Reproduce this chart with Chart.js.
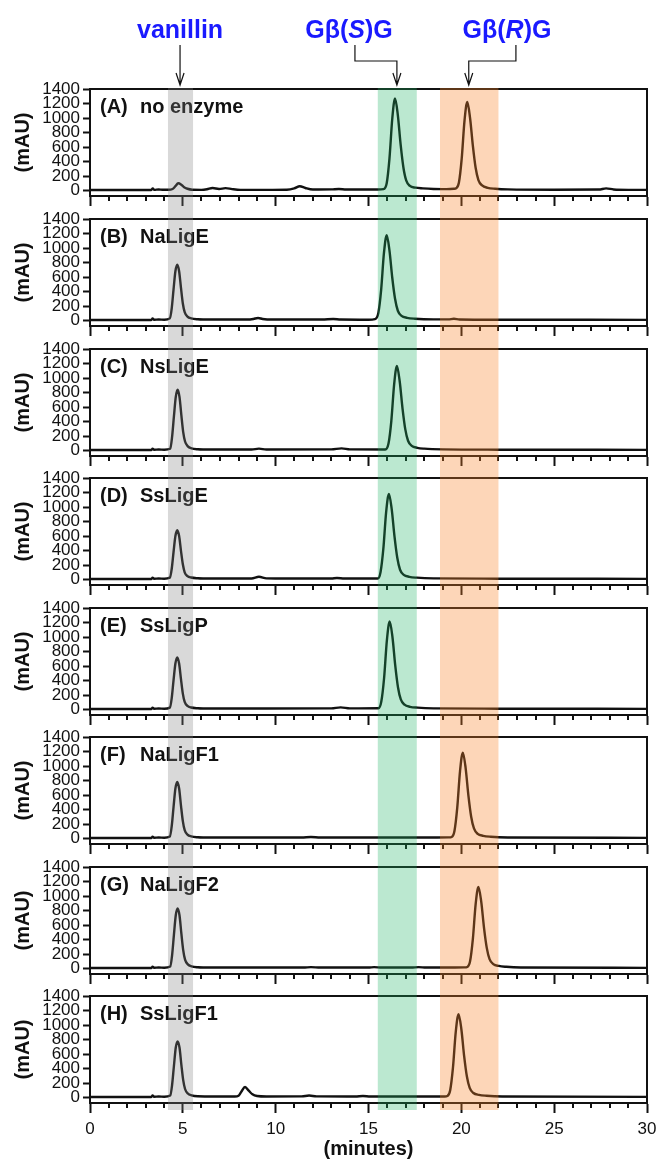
<!DOCTYPE html>
<html>
<head>
<meta charset="utf-8">
<script src="https://cdn.jsdelivr.net/npm/chart.js@4.4.1/dist/chart.umd.min.js"></script>
<style>
  html, body { margin: 0; padding: 0; background: #fff; }
  #wrap { position: relative; width: 657px; height: 1160px; overflow: hidden; }
  #wrap canvas { position: absolute; left: 0; }
</style>
</head>
<body>
<div id="wrap"></div>
<script>
// [retention time (min), absorbance (mAU)]
var traceA = [[0,8],[3.3,8],[3.38,30],[3.46,10],[3.7,15],[3.9,12],[4.2,12],[4.45,22],[4.6,60],[4.75,100],[4.9,85],[5.05,50],[5.25,25],[5.5,12],[6.0,10],[6.3,18],[6.6,35],[6.95,22],[7.3,33],[7.65,20],[8.1,10],[9.5,10],[10.6,12],[11.0,30],[11.3,60],[11.6,35],[12.0,14],[13.0,16],[13.4,22],[13.8,14],[14.6,14],[15.5,15],[15.8,20],[15.98,102],[16.13,445],[16.28,990],[16.43,1270],[16.58,1040],[16.73,635],[16.88,318],[17.03,140],[17.23,64],[17.53,40],[17.93,30],[18.5,22],[19.2,20],[19.6,24],[19.72,32],[19.87,110],[20.02,440],[20.17,960],[20.32,1220],[20.47,1000],[20.62,620],[20.77,315],[20.92,145],[21.12,70],[21.42,38],[21.82,25],[22.5,16],[25.0,12],[27.4,14],[27.8,30],[28.2,15],[29.0,10],[30,10]];
var traceB = [[0,8],[3.3,8],[3.37,28],[3.45,12],[3.7,15],[4.0,12],[4.3,30],[4.4,165],[4.5,430],[4.6,680],[4.7,770],[4.8,680],[4.9,450],[5.0,235],[5.1,115],[5.25,55],[5.45,30],[5.8,18],[6.5,14],[8.5,14],[8.8,22],[9.05,35],[9.3,22],[9.8,14],[12.5,14],[13.1,22],[13.5,14],[15.0,12],[15.35,20],[15.53,105],[15.68,420],[15.83,925],[15.98,1175],[16.13,965],[16.28,590],[16.43,300],[16.58,135],[16.78,65],[17.08,38],[17.5,25],[18.5,16],[19.3,16],[19.6,24],[19.9,15],[22,12],[30,10]];
var traceC = [[0,8],[3.3,8],[3.37,26],[3.45,12],[3.7,15],[4.0,12],[4.32,25],[4.42,185],[4.52,470],[4.62,740],[4.72,840],[4.82,740],[4.92,490],[5.02,255],[5.12,125],[5.27,58],[5.47,30],[5.8,18],[6.5,14],[8.7,14],[9.1,26],[9.5,14],[13.0,16],[13.55,30],[14.0,16],[15.9,14],[16.08,100],[16.23,410],[16.38,910],[16.53,1165],[16.68,955],[16.83,585],[16.98,295],[17.13,135],[17.33,65],[17.63,38],[18.0,26],[19.0,16],[22,12],[30,10]];
var traceD = [[0,8],[3.3,8],[3.37,26],[3.45,12],[3.7,15],[4.0,12],[4.3,26],[4.4,145],[4.5,380],[4.6,600],[4.7,680],[4.8,600],[4.9,395],[5.0,210],[5.1,100],[5.25,48],[5.45,28],[5.8,18],[6.5,14],[8.7,14],[9.1,38],[9.5,16],[10.2,14],[13.0,14],[13.3,22],[13.7,14],[15.5,14],[15.65,105],[15.8,425],[15.95,930],[16.1,1180],[16.25,970],[16.4,595],[16.55,300],[16.7,135],[16.9,65],[17.2,38],[17.6,26],[18.5,16],[22,12],[30,10]];
var traceE = [[0,8],[3.3,8],[3.37,26],[3.45,12],[3.7,15],[4.0,12],[4.3,27],[4.4,155],[4.5,405],[4.6,635],[4.7,720],[4.8,635],[4.9,420],[5.0,220],[5.1,105],[5.25,50],[5.45,28],[5.8,18],[6.5,14],[9.5,14],[13.0,16],[13.5,30],[14.0,16],[15.54,18],[15.69,110],[15.84,435],[15.99,955],[16.14,1215],[16.29,1000],[16.44,610],[16.59,305],[16.74,140],[16.94,67],[17.24,38],[17.64,26],[18.5,16],[22,12],[30,10]];
var traceF = [[0,8],[3.3,8],[3.37,26],[3.45,12],[3.7,15],[4.0,12],[4.3,28],[4.4,168],[4.5,435],[4.6,690],[4.7,780],[4.8,690],[4.9,455],[5.0,240],[5.1,115],[5.25,55],[5.45,30],[5.8,18],[6.5,14],[11.4,14],[11.9,22],[12.4,14],[15.0,14],[19.33,16],[19.48,22],[19.63,105],[19.78,425],[19.93,930],[20.08,1185],[20.23,975],[20.38,595],[20.53,300],[20.68,140],[20.88,65],[21.18,38],[21.58,25],[22.5,15],[30,10]];
var traceG = [[0,8],[3.3,8],[3.37,26],[3.45,12],[3.7,15],[4.0,12],[4.32,28],[4.42,180],[4.52,465],[4.62,735],[4.72,830],[4.82,735],[4.92,485],[5.02,255],[5.12,122],[5.27,57],[5.47,30],[5.8,18],[6.5,14],[11.5,14],[11.9,20],[12.4,14],[15.0,14],[15.3,20],[15.7,14],[17.3,14],[17.7,20],[18.1,14],[20.17,16],[20.32,22],[20.47,100],[20.62,405],[20.77,885],[20.92,1125],[21.07,925],[21.22,565],[21.37,285],[21.52,130],[21.72,62],[22.02,36],[22.42,24],[23.2,15],[30,10]];
var traceH = [[0,8],[3.3,8],[3.37,28],[3.45,12],[3.7,15],[4.0,12],[4.32,28],[4.42,170],[4.52,435],[4.62,690],[4.72,775],[4.82,690],[4.92,455],[5.02,240],[5.12,118],[5.27,56],[5.47,30],[5.8,18],[7.8,14],[8.0,25],[8.15,80],[8.35,145],[8.55,95],[8.75,45],[9.0,22],[9.5,15],[11.4,16],[11.8,28],[12.2,16],[14.3,14],[14.7,22],[15.1,14],[19.1,15],[19.25,22],[19.4,102],[19.55,415],[19.7,905],[19.85,1150],[20.0,945],[20.15,575],[20.3,290],[20.45,133],[20.65,63],[20.95,37],[21.35,25],[22.2,15],[30,10]];

var traces = [traceA, traceB, traceC, traceD, traceE, traceF, traceG, traceH];
var panelLetters = ['A', 'B', 'C', 'D', 'E', 'F', 'G', 'H'];
var panelNames = ['no enzyme', 'NaLigE', 'NsLigE', 'SsLigE', 'SsLigP', 'NaLigF1', 'NaLigF2', 'SsLigF1'];

var yTicks = [0, 200, 400, 600, 800, 1000, 1200, 1400];
var xMajorTicks = [0, 5, 10, 15, 20, 25, 30];
var xMinorTicks = [1, 2, 3, 4, 6, 7, 8, 9, 11, 12, 13, 14, 16, 17, 18, 19, 21, 22, 23, 24, 26, 27, 28, 29];

// retention windows (min): vanillin, G-beta(S)-G, G-beta(R)-G
var bandStart = [4.2, 15.5, 18.85];
var bandEnd = [5.55, 17.6, 22.0];
var bandColors = ['rgba(128,128,128,0.3)', 'rgba(30,180,100,0.3)', 'rgba(250,130,40,0.33)'];

// peak labels above panel A (positions in minutes)
var annotParts = [[['vanillin', false]], [['G\u03b2(', false], ['S', true], [')G', false]], [['G\u03b2(', false], ['R', true], [')G', false]]];
var annotTextAt = [4.85, 13.95, 22.46];
var annotElbowAt = [null, 14.27, 22.94];
var annotArrowAt = [4.85, 16.53, 20.4];

// page layout
var panelTops = [89, 219, 349, 478, 608, 737, 867, 996];
var plotHeight = 107;
var overlap = 10;
var FONT = '"Liberation Sans", Arial, sans-serif';
var INK = '#111';
Chart.defaults.font.family = FONT;

var decorPlugin = {
    id: 'decor',
    afterDraw: function (chart, args, opts) {
        var ctx = chart.ctx;
        var xs = chart.scales.x;
        var area = chart.chartArea;
        var i = opts.index;
        ctx.save();

        // minor x ticks
        ctx.strokeStyle = INK;
        ctx.lineWidth = 2;
        xMinorTicks.forEach(function (v) {
            var px = Math.round(xs.getPixelForValue(v));
            ctx.beginPath();
            ctx.moveTo(px, area.bottom);
            ctx.lineTo(px, area.bottom + 5);
            ctx.stroke();
        });

        // panel label
        ctx.fillStyle = INK;
        ctx.font = 'bold 20px ' + FONT;
        ctx.textBaseline = 'alphabetic';
        ctx.textAlign = 'left';
        ctx.fillText('(' + panelLetters[i] + ')', 100, area.top + 24);
        ctx.fillText(panelNames[i], 140, area.top + 24);

        // peak names and arrows
        if (i === 0) {
            ctx.fillStyle = '#1a1aff';
            annotParts.forEach(function (parts, k) {
                var widths = parts.map(function (p) {
                    ctx.font = (p[1] ? 'italic ' : '') + 'bold 25px ' + FONT;
                    return ctx.measureText(p[0]).width;
                });
                var total = widths.reduce(function (a, b) { return a + b; }, 0);
                var x = xs.getPixelForValue(annotTextAt[k]) - total / 2;
                parts.forEach(function (p, j) {
                    ctx.font = (p[1] ? 'italic ' : '') + 'bold 25px ' + FONT;
                    ctx.fillText(p[0], x, 38);
                    x += widths[j];
                });

                var ax = xs.getPixelForValue(annotArrowAt[k]);
                ctx.strokeStyle = INK;
                ctx.lineWidth = 1.2;
                ctx.beginPath();
                if (annotElbowAt[k] === null) {
                    ctx.moveTo(ax, 45);
                } else {
                    var ex = xs.getPixelForValue(annotElbowAt[k]);
                    ctx.moveTo(ex, 45);
                    ctx.lineTo(ex, 61);
                    ctx.lineTo(ax, 61);
                }
                ctx.lineTo(ax, 85);
                ctx.moveTo(ax - 4, 73);
                ctx.lineTo(ax, 85);
                ctx.lineTo(ax + 4, 73);
                ctx.stroke();
            });
        }

        // shaded retention windows over everything; each canvas covers from
        // its own plot top down to the next panel's plot top
        var top = area.top - 1;
        var bottom = i === 7 ? area.bottom + 7 : chart.height;
        for (var b = 0; b < bandStart.length; b++) {
            var x0 = xs.getPixelForValue(bandStart[b]);
            var x1 = xs.getPixelForValue(bandEnd[b]);
            ctx.fillStyle = bandColors[b];
            ctx.fillRect(x0, top, x1 - x0, bottom - top);
        }
        ctx.restore();
    }
};

function plainLabel(v) {
    return String(v);
}

function makePanel(i) {
    var first = i === 0, last = i === 7;
    var top = first ? 0 : panelTops[i] - 1 - overlap;
    var bottom = last ? 1160 : panelTops[i + 1] - 1;
    var h = bottom - top;
    var padTop = panelTops[i] - top;
    var axisH = h - padTop - plotHeight;

    var canvas = document.createElement('canvas');
    canvas.width = 657;
    canvas.height = h;
    canvas.style.top = top + 'px';
    document.getElementById('wrap').appendChild(canvas);

    return new Chart(canvas.getContext('2d'), {
        type: 'line',
        data: {
            datasets: [{
                data: traces[i].map(function (p) { return { x: p[0], y: p[1] }; }),
                borderColor: INK,
                borderWidth: 2.4,
                pointRadius: 0,
                fill: false,
                cubicInterpolationMode: 'monotone'
            }]
        },
        options: {
            responsive: false,
            animation: false,
            events: [],
            layout: { padding: { top: padTop, right: 10, left: 0, bottom: 0 } },
            plugins: {
                legend: { display: false },
                tooltip: { enabled: false },
                decor: { index: i }
            },
            scales: {
                x: {
                    type: 'linear', position: 'bottom', min: 0, max: 30,
                    afterBuildTicks: function (s) { s.ticks = xMajorTicks.map(function (v) { return { value: v }; }); },
                    afterFit: function (s) {
                        s.height = axisH;
                        s.paddingLeft = 0; s.paddingRight = 0;
                    },
                    grid: { display: true, drawOnChartArea: false, drawTicks: true, tickLength: 10, tickWidth: 2, tickColor: INK },
                    border: { display: true, color: INK, width: 2 },
                    ticks: { display: last, autoSkip: false, callback: plainLabel, font: { size: 17 }, color: INK, padding: 6, maxRotation: 0 },
                    title: { display: last, text: '(minutes)', color: INK, font: { size: 20, weight: 'bold', lineHeight: 1.1 }, padding: { top: 0, bottom: 0 } }
                },
                y: {
                    type: 'linear', position: 'left', min: -75, max: 1400,
                    afterBuildTicks: function (s) { s.ticks = yTicks.map(function (v) { return { value: v }; }); },
                    afterFit: function (s) {
                        s.width = 90;
                        s.paddingTop = 0; s.paddingBottom = 0;
                    },
                    grid: { display: true, drawOnChartArea: false, drawTicks: true, tickLength: 7, tickWidth: 2, tickColor: INK },
                    border: { display: true, color: INK, width: 2 },
                    ticks: { autoSkip: false, callback: plainLabel, font: { size: 17, lineHeight: 1 }, color: INK, padding: 3 },
                    title: { display: true, text: '(mAU)', color: INK, font: { size: 20, weight: 'bold' }, padding: { top: 11, bottom: 0 } }
                },
                xTop: {
                    type: 'linear', position: 'top', min: 0, max: 30,
                    grid: { display: false }, ticks: { display: false },
                    border: { display: true, color: INK, width: 2 },
                    afterFit: function (s) { s.height = 0; }
                },
                yRight: {
                    type: 'linear', position: 'right', min: -75, max: 1400,
                    grid: { display: false }, ticks: { display: false },
                    border: { display: true, color: INK, width: 2 },
                    afterFit: function (s) { s.width = 0; }
                }
            }
        },
        plugins: [decorPlugin]
    });
}

for (var p = 0; p < traces.length; p++) {
    makePanel(p);
}
</script>
</body>
</html>
